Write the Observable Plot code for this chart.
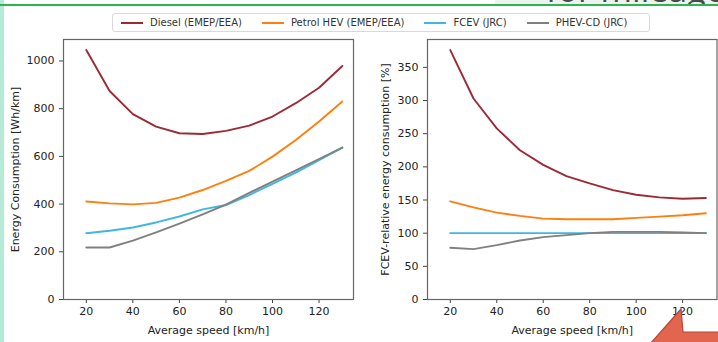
<!DOCTYPE html>
<html>
<head>
<meta charset="utf-8">
<script src="https://cdn.jsdelivr.net/npm/d3@7"></script>
<script src="https://cdn.jsdelivr.net/npm/@observablehq/plot@0.6"></script>
<style>
  html, body { margin: 0; padding: 0; background: #fff; }
  #wrap { position: relative; width: 718px; height: 342px; overflow: hidden; background: #fff; font-family: "DejaVu Sans", sans-serif; }
  #wrap svg { position: absolute; top: 0; }
  #leftEdge { position: absolute; left: 0; top: 0; width: 4px; height: 342px; background: #b4ead6; }
  #topShade { position: absolute; left: 495px; top: 0; width: 223px; height: 4px; background: #eef2ee; overflow: hidden; }
  #topShade span { position: absolute; left: 51px; top: -25px; font-size: 34px; line-height: 29px; color: #4a4a4a; white-space: nowrap; font-family: "Open Sans", sans-serif; }
  #topLine { position: absolute; left: 0; top: 4px; width: 718px; height: 1.5px; background: #2db350; }
  #legend { position: absolute; left: 112px; top: 13px; width: 538px; height: 19px; border: 1px solid #d9d9d9; border-radius: 3px; display: flex; align-items: center; padding-left: 8px; box-sizing: border-box; font-size: 10px; color: #333; background: #fff; }
  .item { display: flex; align-items: center; margin-right: 20px; white-space: nowrap; }
  .sw { width: 22px; height: 2px; margin-right: 7px; }
  #arrow { position: absolute; left: 0; top: 0; }
</style>
</head>
<body>
<div id="wrap">
  <div id="leftEdge"></div>
  <div id="topShade"><span>for mileage</span></div>
  <div id="topLine"></div>
</div>
<script>
// ---- data ----
const speeds = [20, 30, 40, 50, 60, 70, 80, 90, 100, 110, 120, 130];
const seriesNames = ["Diesel (EMEP/EEA)", "Petrol HEV (EMEP/EEA)", "FCEV (JRC)", "PHEV-CD (JRC)"];
const seriesColors = ["#9c2a35", "#ff7f0e", "#3fb6e4", "#808080"];

// Energy consumption [Wh/km]
const dieselWh = [1046, 874, 777, 725, 697, 694, 707, 729, 767, 823, 888, 979];
const petrolWh = [411, 403, 399, 405, 427, 459, 497, 539, 599, 669, 746, 830];
const fcevWh   = [278, 288, 302, 323, 348, 378, 396, 438, 485, 532, 584, 637];
const phevWh   = [218, 218, 247, 281, 318, 357, 398, 447, 494, 541, 589, 637];

// FCEV-relative energy consumption [%]
const dieselRel = [376, 303, 258, 225, 203, 186, 175, 165, 158, 154, 152, 153];
const petrolRel = [148, 139, 131, 126, 122, 121, 121, 121, 123, 125, 127, 130];
const fcevRel   = [100, 100, 100, 100, 100, 100, 100, 100, 100, 100, 100, 100];
const phevRel   = [78, 76, 82, 89, 94, 97, 100, 102, 102, 102, 101, 100];

const xTicks = [20, 40, 60, 80, 100, 120];
const leftYTicks = [0, 200, 400, 600, 800, 1000];
const rightYTicks = [0, 50, 100, 150, 200, 250, 300, 350];

const xLabel = "Average speed [km/h]";
const leftYLabel = "Energy Consumption [Wh/km]";
const rightYLabel = "FCEV-relative energy consumption [%]";

function toRows(arrays) {
  const rows = [];
  arrays.forEach((arr, i) => arr.forEach((v, j) => rows.push({series: seriesNames[i], speed: speeds[j], value: v})));
  return rows;
}
const leftRows = toRows([dieselWh, petrolWh, fcevWh, phevWh]);
const rightRows = toRows([dieselRel, petrolRel, fcevRel, phevRel]);

const axisStyle = {fontSize: "11px", fontFamily: "DejaVu Sans, sans-serif", color: "#222"};

function panel(rows, yDomain, yTicks, yLabel, width, mLeft, mRight, yLabelOffset) {
  return Plot.plot({
    width, height: 342,
    marginLeft: mLeft, marginRight: mRight, marginTop: 39, marginBottom: 43,
    style: axisStyle,
    x: {domain: [10.2, 134.8]},
    y: {domain: yDomain},
    color: {domain: seriesNames, range: seriesColors},
    marks: [
      Plot.axisX({ticks: xTicks, tickFormat: d => String(d), tickSize: 4, tickPadding: 4, stroke: "#444", label: xLabel, labelAnchor: "center", labelArrow: "none", labelOffset: 34, fontSize: 11}),
      Plot.axisY({ticks: yTicks, tickFormat: d => String(d), tickSize: 4, tickPadding: 5, stroke: "#444", label: yLabel, labelAnchor: "center", labelArrow: "none", labelOffset: yLabelOffset, fontSize: 11}),
      Plot.line(rows, {x: "speed", y: "value", z: "series", stroke: "series", strokeWidth: 1.9}),
      Plot.frame({stroke: "#666", strokeWidth: 1.2})
    ]
  });
}

const wrap = document.getElementById("wrap");
const left = panel(leftRows, [0, 1090], leftYTicks, leftYLabel, 360, 63, 7, 52);
left.style.left = "0px";
const right = panel(rightRows, [0, 392], rightYTicks, rightYLabel, 358, 67, 1.5, 46);
right.style.left = "360px";
wrap.appendChild(left);
wrap.appendChild(right);

// legend
const legend = document.createElement("div");
legend.id = "legend";
seriesNames.forEach((name, i) => {
  const item = document.createElement("div");
  item.className = "item";
  const sw = document.createElement("div");
  sw.className = "sw";
  sw.style.background = seriesColors[i];
  const t = document.createElement("span");
  t.textContent = name;
  item.appendChild(sw);
  item.appendChild(t);
  legend.appendChild(item);
});
wrap.appendChild(legend);

// slide arrow overlay
const ns = "http://www.w3.org/2000/svg";
const arr = document.createElementNS(ns, "svg");
arr.setAttribute("id", "arrow");
arr.setAttribute("width", "718");
arr.setAttribute("height", "342");
const poly = document.createElementNS(ns, "polygon");
poly.setAttribute("points", "681,309 650,344 720,344 720,332 683,332");
poly.setAttribute("fill", "#e2654f");
poly.setAttribute("stroke", "#b84432");
poly.setAttribute("stroke-width", "1.2");
arr.appendChild(poly);
wrap.appendChild(arr);
</script>
</body>
</html>
